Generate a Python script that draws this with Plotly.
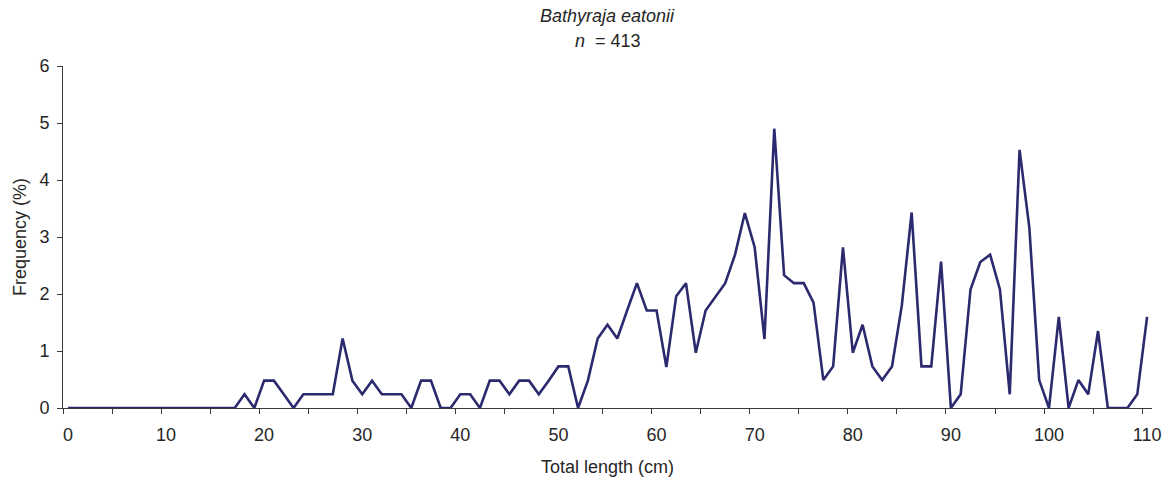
import plotly.graph_objects as go

# Total length classes (cm) and their frequency (%)
lengths = list(range(0, 111))
freq = [
    0, 0, 0, 0, 0, 0, 0, 0, 0, 0,            # 0-9
    0, 0, 0, 0, 0, 0, 0, 0, 0.24, 0,         # 10-19
    0.48, 0.48, 0.24, 0, 0.24, 0.24, 0.24, 0.24, 1.22, 0.48,   # 20-29
    0.24, 0.48, 0.24, 0.24, 0.24, 0, 0.48, 0.48, 0, 0,         # 30-39
    0.24, 0.24, 0, 0.48, 0.48, 0.24, 0.48, 0.48, 0.24, 0.48,   # 40-49
    0.73, 0.73, 0, 0.48, 1.22, 1.46, 1.22, 1.71, 2.19, 1.71,   # 50-59
    1.71, 0.72, 1.96, 2.19, 0.97, 1.71, 1.95, 2.19, 2.69, 3.42,  # 60-69
    2.82, 1.21, 4.90, 2.33, 2.19, 2.19, 1.85, 0.49, 0.73, 2.82,  # 70-79
    0.97, 1.46, 0.73, 0.49, 0.73, 1.80, 3.43, 0.73, 0.73, 2.57,  # 80-89
    0, 0.24, 2.08, 2.56, 2.69, 2.08, 0.24, 4.53, 3.16, 0.49,     # 90-99
    0, 1.60, 0, 0.49, 0.24, 1.35, 0, 0, 0, 0.24,                 # 100-109
    1.60,                                                         # 110
]

x_labels = list(range(0, 111, 10))
y_ticks = list(range(0, 7))

species = "Bathyraja eatonii"
n_total = 413

FONT = "Liberation Sans, Arial, sans-serif"
FS = 18
TXT = "#262626"
AX = "#3a3a3a"

fig = go.Figure()
fig.add_trace(go.Scatter(
    x=lengths, y=freq, mode="lines",
    line=dict(color="#2c2a6e", width=2.6),
    cliponaxis=False, showlegend=False,
))

# category-style axis: boundaries every 5 classes, labels centred on classes
bounds = [v - 0.5 for v in range(0, 111, 5)]
fig.update_xaxes(
    range=[-0.5, 110.5],
    automargin=False,
    tickmode="array",
    tickvals=x_labels,
    ticktext=[str(v) for v in x_labels],
    ticks="",
    ticklabelstandoff=10,
    minor=dict(tickmode="array", tickvals=bounds, ticks="outside",
               ticklen=5, tickcolor=AX, tickwidth=1),
    showline=True, linecolor=AX, linewidth=1,
    showgrid=False, zeroline=False,
    tickfont=dict(family=FONT, size=FS, color=TXT),
    title=dict(text="Total length (cm)", standoff=16,
               font=dict(family=FONT, size=FS, color=TXT)),
)
fig.update_yaxes(
    range=[0, 6],
    automargin=False,
    tickmode="array", tickvals=y_ticks,
    ticks="outside", ticklen=5, tickcolor=AX, tickwidth=1,
    ticklabelstandoff=4,
    showline=True, linecolor=AX, linewidth=1,
    showgrid=False, zeroline=False,
    tickfont=dict(family=FONT, size=FS, color=TXT),
    title=dict(text="Frequency (%)", standoff=8,
               font=dict(family=FONT, size=FS, color=TXT)),
)

fig.add_annotation(text=f"<i>{species}</i>", xref="paper", yref="paper",
                   x=0.5, y=1 + (66 - 16.5) / 342, yanchor="middle",
                   showarrow=False, font=dict(family=FONT, size=FS, color=TXT))
fig.add_annotation(text=f"<i>n</i>  = {n_total}", xref="paper", yref="paper",
                   x=0.5, y=1 + (66 - 40.5) / 342, yanchor="middle",
                   showarrow=False, font=dict(family=FONT, size=FS, color=TXT))

fig.update_layout(
    width=1173, height=481,
    margin=dict(l=63, r=21, t=66, b=73),
    paper_bgcolor="white", plot_bgcolor="white",
    font=dict(family=FONT, size=FS, color=TXT),
)

fig.write_html("out.html")
